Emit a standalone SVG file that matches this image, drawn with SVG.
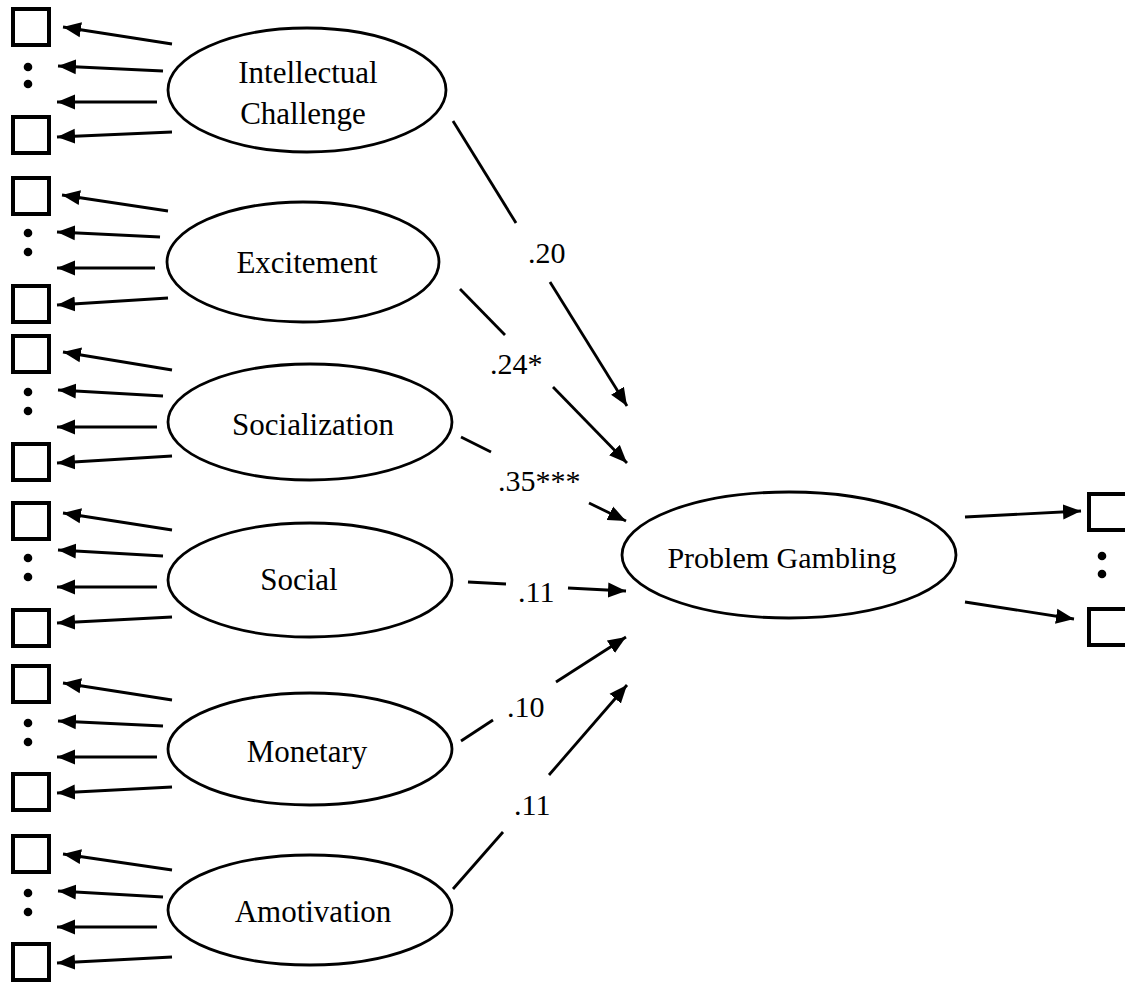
<svg xmlns="http://www.w3.org/2000/svg" width="1125" height="985" viewBox="0 0 1125 985">
<style>
.bg{fill:#fff}
.ell{fill:#fff;stroke:#000;stroke-width:2.8}
.sq{fill:#fff;stroke:#000;stroke-width:4}
.dot{fill:#000}
.ln{stroke:#000;stroke-width:2.8;fill:none}
.arr{stroke:#000;stroke-width:2.8;fill:none;marker-end:url(#ah)}
.t{font-family:"Liberation Serif","Times New Roman",serif;font-size:31px;fill:#000;text-anchor:middle}
.lbl{font-family:"Liberation Serif","Times New Roman",serif;font-size:30px;fill:#000}
</style>
<defs>
<marker id="ah" markerUnits="userSpaceOnUse" markerWidth="19" markerHeight="16" refX="18" refY="8" orient="auto">
<path d="M0,0.5 L18,8 L0,15.5 z" fill="#000"/>
</marker>
</defs>
<rect class="bg" x="0" y="0" width="1125" height="985"/>

<g id="indicators-intellectual">
<rect class="sq" x="13" y="9" width="36" height="36"/>
<circle class="dot" cx="28" cy="67" r="4.3"/><circle class="dot" cx="28" cy="84" r="4.3"/>
<rect class="sq" x="13" y="117" width="36" height="36"/>
</g>
<g id="indicators-excitement">
<rect class="sq" x="13" y="178" width="36" height="36"/>
<circle class="dot" cx="28" cy="233" r="4.3"/><circle class="dot" cx="28" cy="252" r="4.3"/>
<rect class="sq" x="13" y="286" width="36" height="36"/>
</g>
<g id="indicators-socialization">
<rect class="sq" x="13" y="336" width="36" height="36"/>
<circle class="dot" cx="28" cy="392" r="4.3"/><circle class="dot" cx="28" cy="411" r="4.3"/>
<rect class="sq" x="13" y="444" width="36" height="36"/>
</g>
<g id="indicators-social">
<rect class="sq" x="13" y="503" width="36" height="36"/>
<circle class="dot" cx="28" cy="558" r="4.3"/><circle class="dot" cx="28" cy="577" r="4.3"/>
<rect class="sq" x="13" y="610" width="36" height="36"/>
</g>
<g id="indicators-monetary">
<rect class="sq" x="13" y="666" width="36" height="36"/>
<circle class="dot" cx="28" cy="723" r="4.3"/><circle class="dot" cx="28" cy="742" r="4.3"/>
<rect class="sq" x="13" y="774" width="36" height="36"/>
</g>
<g id="indicators-amotivation">
<rect class="sq" x="13" y="836" width="36" height="36"/>
<circle class="dot" cx="28" cy="893" r="4.3"/><circle class="dot" cx="28" cy="912" r="4.3"/>
<rect class="sq" x="13" y="944" width="36" height="36"/>
</g>
<g id="indicators-gambling">
<rect class="sq" x="1089" y="494" width="40" height="36"/>
<circle class="dot" cx="1102" cy="556" r="4.3"/><circle class="dot" cx="1102" cy="574" r="4.3"/>
<rect class="sq" x="1089" y="609" width="40" height="36"/>
</g>

<g id="node-intellectual">
<ellipse class="ell" cx="307" cy="90" rx="139" ry="62"/>
<text class="t" x="308" y="83">Intellectual</text>
<text class="t" x="303" y="124">Challenge</text>
</g>
<g id="node-excitement">
<ellipse class="ell" cx="303" cy="262" rx="136" ry="60"/>
<text class="t" x="307" y="273">Excitement</text>
</g>
<g id="node-socialization">
<ellipse class="ell" cx="310" cy="422" rx="142" ry="58"/>
<text class="t" x="313" y="435">Socialization</text>
</g>
<g id="node-social">
<ellipse class="ell" cx="310" cy="580" rx="142" ry="57"/>
<text class="t" x="299" y="590">Social</text>
</g>
<g id="node-monetary">
<ellipse class="ell" cx="310" cy="749" rx="142" ry="56"/>
<text class="t" x="307" y="762">Monetary</text>
</g>
<g id="node-amotivation">
<ellipse class="ell" cx="310" cy="910" rx="142" ry="55"/>
<text class="t" x="313" y="922">Amotivation</text>
</g>
<g id="node-gambling">
<ellipse class="ell" cx="789" cy="555" rx="167" ry="63"/>
<text class="t" x="782" y="568" style="font-size:30px">Problem Gambling</text>
</g>

<g id="connectors">
<line class="arr" x1="172" y1="44" x2="63" y2="27"/>
<line class="arr" x1="163" y1="71" x2="58" y2="66"/>
<line class="arr" x1="157" y1="102" x2="57" y2="102"/>
<line class="arr" x1="172" y1="132" x2="57" y2="137"/>
<line class="arr" x1="168" y1="211" x2="62" y2="195"/>
<line class="arr" x1="160" y1="237" x2="57" y2="232"/>
<line class="arr" x1="155" y1="268" x2="57" y2="268"/>
<line class="arr" x1="168" y1="298" x2="57" y2="305"/>
<line class="arr" x1="172" y1="370" x2="63" y2="352"/>
<line class="arr" x1="163" y1="396" x2="58" y2="390"/>
<line class="arr" x1="157" y1="427" x2="57" y2="427"/>
<line class="arr" x1="172" y1="456" x2="57" y2="463"/>
<line class="arr" x1="172" y1="530" x2="63" y2="513"/>
<line class="arr" x1="163" y1="556" x2="58" y2="550"/>
<line class="arr" x1="157" y1="587" x2="57" y2="587"/>
<line class="arr" x1="172" y1="617" x2="57" y2="623"/>
<line class="arr" x1="172" y1="700" x2="63" y2="683"/>
<line class="arr" x1="163" y1="726" x2="58" y2="721"/>
<line class="arr" x1="157" y1="757" x2="57" y2="757"/>
<line class="arr" x1="172" y1="787" x2="57" y2="793"/>
<line class="arr" x1="172" y1="870" x2="63" y2="854"/>
<line class="arr" x1="163" y1="897" x2="58" y2="891"/>
<line class="arr" x1="157" y1="927" x2="57" y2="927"/>
<line class="arr" x1="172" y1="957" x2="57" y2="963"/>
<line class="arr" x1="965" y1="517" x2="1081" y2="511"/>
<line class="arr" x1="965" y1="602" x2="1074" y2="619"/>

<line class="ln" x1="453" y1="121" x2="516" y2="223"/>
<text class="lbl" x="528" y="263">.20</text>
<line class="arr" x1="550" y1="282" x2="627" y2="406"/>

<line class="ln" x1="460" y1="289" x2="505" y2="335"/>
<text class="lbl" x="490" y="374">.24*</text>
<line class="arr" x1="553" y1="387" x2="627" y2="463"/>

<line class="ln" x1="461" y1="437" x2="491" y2="452"/>
<text class="lbl" x="498" y="491">.35***</text>
<line class="arr" x1="589" y1="503" x2="626" y2="521"/>

<line class="ln" x1="468" y1="582" x2="506" y2="584"/>
<text class="lbl" x="518" y="602">.11</text>
<line class="arr" x1="568" y1="588" x2="626" y2="591"/>

<line class="ln" x1="461" y1="741" x2="493" y2="720"/>
<text class="lbl" x="507" y="717">.10</text>
<line class="arr" x1="556" y1="682" x2="626" y2="637"/>

<line class="ln" x1="453" y1="889" x2="503" y2="832"/>
<text class="lbl" x="514" y="815">.11</text>
<line class="arr" x1="549" y1="775" x2="627" y2="685"/>
</g>
</svg>
